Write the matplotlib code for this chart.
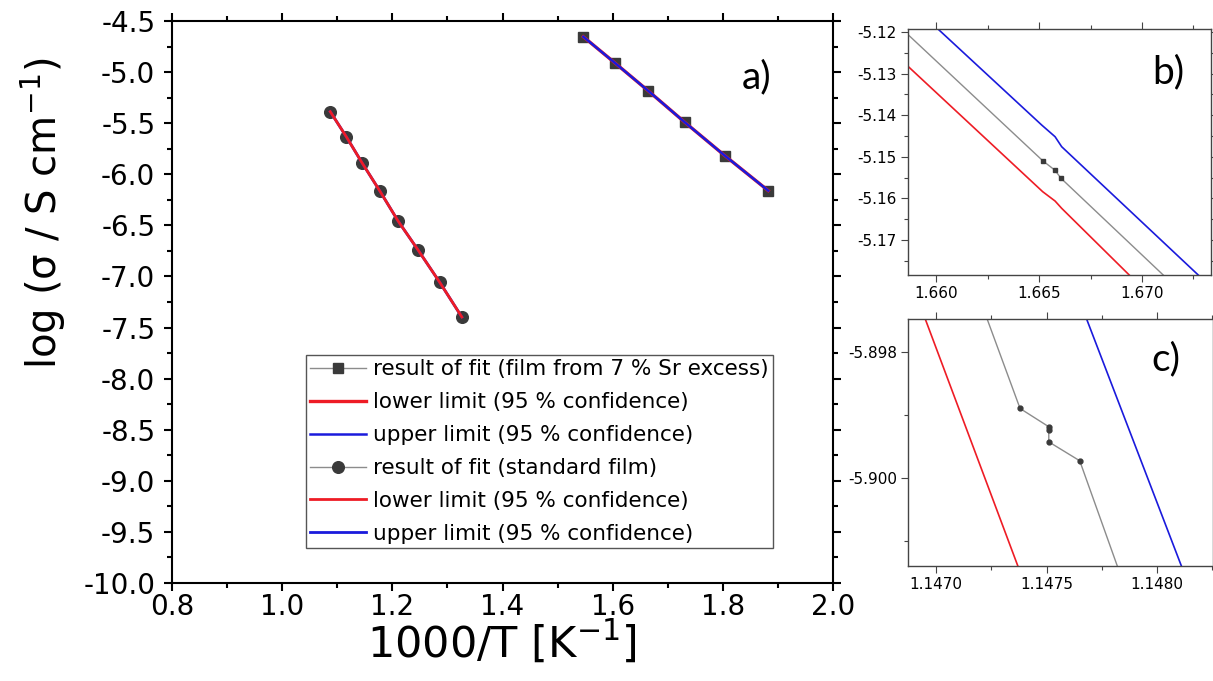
import numpy as np
import matplotlib
matplotlib.use("Agg")
import matplotlib.pyplot as plt
from matplotlib.ticker import MultipleLocator, FormatStrFormatter

plt.rcParams['font.family'] = ['DejaVu Sans']
plt.rcParams['axes.unicode_minus'] = False
plt.rcParams['mathtext.default'] = 'regular'

# main panel a): fit results, 1000/T vs log(sigma)
sr_x = [1.5467, 1.6036, 1.6642, 1.7309, 1.8036, 1.8824]
sr_y = [-4.654, -4.908, -5.182, -5.491, -5.818, -6.160]
std_x = [1.0873, 1.1164, 1.1455, 1.1769, 1.2104, 1.2467, 1.2860, 1.3262]
std_y = [-5.387, -5.632, -5.892, -6.160, -6.457, -6.741, -7.057, -7.397]

# inset b): zoom on the Sr film near 1.665
b_fit_x = [1.65866, 1.66518, 1.66578, 1.66607, 1.67103]
b_fit_y = [-5.12072, -5.15094, -5.15325, -5.15517, -5.17841]
b_low_x = [1.65866, 1.66518, 1.66578, 1.66610, 1.66938]
b_low_y = [-5.12834, -5.15839, -5.16063, -5.16238, -5.17841]
b_up_x = [1.66011, 1.66513, 1.66578, 1.66610, 1.67273]
b_up_y = [-5.11935, -5.14236, -5.14517, -5.14757, -5.17841]

# inset c): zoom on the standard film near 1.1475
c_fit_x = [1.14723, 1.14738, 1.14751, 1.14751, 1.14751, 1.14765, 1.14782]
c_fit_y = [-5.89747, -5.89890, -5.89919, -5.89924, -5.89943, -5.89973, -5.90140]
c_low_x = [1.14695, 1.14737]
c_low_y = [-5.89747, -5.90140]
c_up_x = [1.14768, 1.14811]
c_up_y = [-5.89747, -5.90140]

GRAY = '#8c8c8c'
MARK = '#3a3a3a'
RED = '#ee1c25'
BLUE = '#1a1adc'

W, H = 1213, 681
fig = plt.figure(figsize=(W / 100, H / 100), dpi=100)

def box(l, t, r, b):
    return [l / W, 1 - b / H, (r - l) / W, (b - t) / H]

def fig_text(x, y, s):
    fig.text(x / W, 1 - y / H, s, fontsize=28, family='Lato',
             ha='center', va='center')

ax = fig.add_axes(box(172, 21, 833, 583))
l1, = ax.plot(sr_x, sr_y, '-', color=GRAY, lw=1, marker='s', ms=7.2,
              mfc=MARK, mec=MARK, zorder=2,
              label='result of fit (film from 7 % Sr excess)')
l2, = ax.plot(sr_x, sr_y, color=RED, lw=2.4, zorder=3,
              label='lower limit (95 % confidence)')
l3, = ax.plot(sr_x, sr_y, color=BLUE, lw=1.8, zorder=4,
              label='upper limit (95 % confidence)')
l4, = ax.plot(std_x, std_y, '-', color=GRAY, lw=1, marker='o', ms=8.4,
              mfc=MARK, mec=MARK, zorder=2,
              label='result of fit (standard film)')
l6, = ax.plot(std_x, std_y, color=BLUE, lw=2.0, zorder=3,
              label='upper limit (95 % confidence)')
l5, = ax.plot(std_x, std_y, color=RED, lw=2.0, zorder=4,
              label='lower limit (95 % confidence)')

ax.set_xlim(0.8, 2.0)
ax.set_ylim(-10.0, -4.5)
ax.xaxis.set_major_locator(MultipleLocator(0.2))
ax.xaxis.set_minor_locator(MultipleLocator(0.1))
ax.yaxis.set_major_locator(MultipleLocator(0.5))
ax.yaxis.set_minor_locator(MultipleLocator(0.25))
ax.xaxis.set_major_formatter(FormatStrFormatter('%.1f'))
ax.yaxis.set_major_formatter(FormatStrFormatter('%.1f'))
ax.tick_params(which='both', direction='out', top=True, right=True,
               width=1.5, labelsize=20)
ax.tick_params(which='major', length=6)
ax.tick_params(which='minor', length=3.5)
ax.tick_params(axis='x', which='major', pad=1)
ax.tick_params(axis='y', which='major', pad=6)
for s in ax.spines.values():
    s.set_linewidth(1.5)
ax.set_xlabel('1000/T [K$^{-1}$]', fontsize=31)
ax.xaxis.set_label_coords(0.499, -0.064)
ax.set_ylabel('log (σ / S cm$^{-1}$)', fontsize=29)
ax.yaxis.set_label_coords(-0.157, 0.658)
fig_text(757, 77, 'a)')

leg = ax.legend(handles=[l1, l2, l3, l4, l5, l6], loc='upper left',
                bbox_to_anchor=(306 / W, 1 - 355 / H),
                bbox_transform=fig.transFigure, fontsize=15.5,
                frameon=True, fancybox=False, framealpha=1,
                edgecolor='#555555', borderaxespad=0, borderpad=0.2,
                labelspacing=0.6, handlelength=2.6, handletextpad=0.3)
leg.get_frame().set_linewidth(1)


def style_inset(a):
    for s in a.spines.values():
        s.set_linewidth(1)
        s.set_color('#444444')
    a.tick_params(which='both', direction='out', top=True, right=True,
                  width=0.8, color='#444444', labelsize=11)
    a.tick_params(which='major', length=5, pad=3)
    a.tick_params(which='minor', length=3)


# inset b
axb = fig.add_axes(box(908, 29, 1211, 275))
axb.plot(b_low_x, b_low_y, color=RED, lw=1.2)
axb.plot(b_up_x, b_up_y, color=BLUE, lw=1.2)
axb.plot(b_fit_x, b_fit_y, color=GRAY, lw=1)
axb.plot(b_fit_x[1:-1], b_fit_y[1:-1], 's', ms=3.5, color=MARK)
axb.set_xlim(1.65864, 1.67335)
axb.set_ylim(-5.17841, -5.11928)
axb.xaxis.set_major_locator(MultipleLocator(0.005))
axb.xaxis.set_minor_locator(MultipleLocator(0.0025))
axb.yaxis.set_major_locator(MultipleLocator(0.01))
axb.yaxis.set_minor_locator(MultipleLocator(0.005))
axb.xaxis.set_major_formatter(FormatStrFormatter('%.3f'))
axb.yaxis.set_major_formatter(FormatStrFormatter('%.2f'))
style_inset(axb)
fig_text(1168, 72, 'b)')

# inset c
axc = fig.add_axes(box(908, 319, 1213, 566))
axc.plot(c_low_x, c_low_y, color=RED, lw=1.2)
axc.plot(c_up_x, c_up_y, color=BLUE, lw=1.2)
axc.plot(c_fit_x, c_fit_y, color=GRAY, lw=1)
axc.plot(c_fit_x[1:-1], c_fit_y[1:-1], 'o', ms=3.5, color=MARK)
axc.set_xlim(1.146873, 1.148253)
axc.set_ylim(-5.90140, -5.89748)
axc.xaxis.set_major_locator(MultipleLocator(0.0005))
axc.xaxis.set_minor_locator(MultipleLocator(0.00025))
axc.yaxis.set_major_locator(MultipleLocator(0.002))
axc.yaxis.set_minor_locator(MultipleLocator(0.001))
axc.xaxis.set_major_formatter(FormatStrFormatter('%.4f'))
axc.yaxis.set_major_formatter(FormatStrFormatter('%.3f'))
style_inset(axc)
fig_text(1166, 359, 'c)')

fig.savefig('out.png', dpi=100)
